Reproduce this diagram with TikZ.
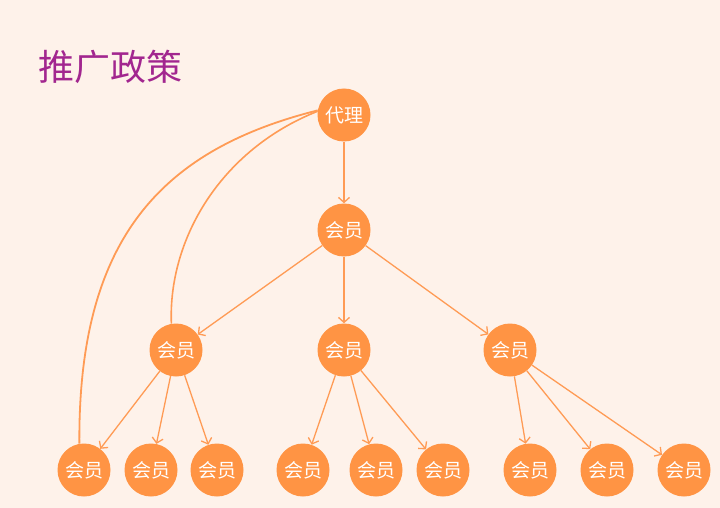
\documentclass[tikz,border=0pt]{standalone}
\usepackage{fontspec}
\setmainfont{Noto Sans CJK SC}
\usetikzlibrary{arrows.meta}
\definecolor{bgcream}{HTML}{FEF2EA}
\definecolor{nodeorange}{HTML}{FF9444}
\definecolor{edgeorange}{HTML}{FF9B55}
\definecolor{titlepurple}{HTML}{A2268F}
\begin{document}
\begin{tikzpicture}
  [x=1pt,y=-1pt,every node/.style={circle,fill=nodeorange,text=white,minimum size=53pt,inner sep=0pt,font=\fontsize{19}{19}\selectfont}]
  \fill[bgcream] (0,0) rectangle (720,508);
  \useasboundingbox (0,0) rectangle (720,508);
  \node[fill=none,circle=false,rectangle,text=titlepurple,anchor=west,font=\fontsize{36}{36}\selectfont,minimum size=0pt] (title) at (38,67) {推广政策};
  \node (d) at (344,115) {代理};
  \node (m) at (344,230) {会员};
  \node (a) at (176,350) {会员};
  \node (b) at (344,350) {会员};
  \node (c) at (510,350) {会员};
  \node (a1) at (84,470) {会员};
  \node (a2) at (151,470) {会员};
  \node (a3) at (217,470) {会员};
  \node (b1) at (303,470) {会员};
  \node (b2) at (376,470) {会员};
  \node (b3) at (443,470) {会员};
  \node (c1) at (530,470) {会员};
  \node (c2) at (607,470) {会员};
  \node (c3) at (684,470) {会员};
 \path[-{Straight Barb[length=5pt,width=11pt]}, draw=edgeorange, line width=1.3pt]
        (d) edge (m)
        (m) edge (a)
        (m) edge (b)
        (m) edge (c)
        (a) edge (a1)
        (a) edge (a2)
        (a) edge (a3)
        (b) edge (b1)
        (b) edge (b2)
        (b) edge (b3)
        (c) edge (c1)
        (c) edge (c2)
        (c) edge (c3);
 \draw[edgeorange, line width=1.8pt] (d.170) .. controls (160,150) and (78,240) .. (a1.100);
 \draw[edgeorange, line width=1.6pt] (d.172) .. controls (220,150) and (168,240) .. (a.100);

\end{tikzpicture}
\end{document}
